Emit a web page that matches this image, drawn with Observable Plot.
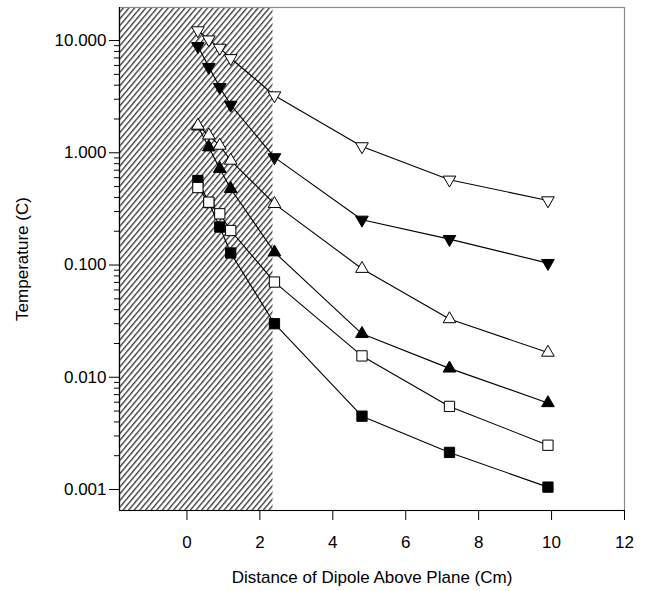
<!DOCTYPE html>
<html>
<head>
<meta charset="utf-8">
<script src="https://cdn.jsdelivr.net/npm/d3@7"></script>
<script src="https://cdn.jsdelivr.net/npm/@observablehq/plot@0.6"></script>
<style>
  html, body { margin: 0; padding: 0; background: white; }
  svg { display: block; }
</style>
</head>
<body>
<div id="chart"></div>
<script>
// Distance of dipole above plane (cm)
const distance = [0.3, 0.6, 0.9, 1.2, 2.4, 4.8, 7.2, 9.9];
// Temperature (C) for each series
const openDown     = [12.3, 10.2, 8.6, 6.95, 3.24, 1.14, 0.575, 0.376];
const filledDown   = [8.9, 5.8, 3.84, 2.67, 0.91, 0.253, 0.170, 0.104];
const openUp       = [1.75, 1.43, 1.16, 0.853, 0.351, 0.0927, 0.033, 0.0166];
const filledUp     = [1.72, 1.12, 0.72, 0.478, 0.130, 0.0244, 0.012, 0.0059];
const openSquare   = [0.49, 0.363, 0.286, 0.203, 0.0705, 0.0155, 0.0055, 0.00248];
const filledSquare = [0.566, 0.36, 0.218, 0.128, 0.030, 0.0045, 0.00214, 0.00105];

const xTicks = [0, 2, 4, 6, 8, 10, 12];
const yTicks = [0.001, 0.01, 0.1, 1, 10];
const xDomain = [-1.85, 12];
const yDomain = [0.00065, 19.7];
const hatchRegion = [{start: -1.85, end: 2.36}];

const seriesList = [
  {name: "filledSquare", values: filledSquare, symbol: "square", fill: "black", rotate: 0},
  {name: "openSquare", values: openSquare, symbol: "square", fill: "white", rotate: 0},
  {name: "filledUp", values: filledUp, symbol: "triangle", fill: "black", rotate: 0},
  {name: "openUp", values: openUp, symbol: "triangle", fill: "white", rotate: 0},
  {name: "filledDown", values: filledDown, symbol: "triangle", fill: "black", rotate: 180},
  {name: "openDown", values: openDown, symbol: "triangle", fill: "white", rotate: 180}
];

const rows = s => distance.map((d, i) => ({x: d, y: s.values[i], series: s.name}));

const minorTicks = d3.scaleLog().domain([0.001, 10]).ticks().filter(t => !yTicks.some(m => Math.abs(m - t) / t < 1e-9));

const FONT = "'Liberation Sans', Arial, sans-serif";
const marks = [
  Plot.rect(hatchRegion, {x1: "start", x2: "end", y1: yDomain[0], y2: yDomain[1], fill: "url(#hatch)"}),
  Plot.frame({stroke: "#8a8a8a", strokeWidth: 1.2}),
  Plot.ruleX([xDomain[0]], {stroke: "black", strokeWidth: 1.2}),
  Plot.ruleY([yDomain[0]], {stroke: "black", strokeWidth: 1.2}),
  Plot.axisY({ticks: minorTicks, tickSize: 5, tickFormat: () => "", label: null}),
  Plot.axisY({ticks: yTicks, tickSize: 10, tickPadding: 3, tickFormat: d3.format(".3f"),
    fontSize: 17, fontFamily: FONT,
    label: "Temperature (C)", labelAnchor: "center", labelArrow: "none", labelOffset: 104}),
  Plot.axisX({ticks: xTicks, tickSize: 10, tickPadding: 15, tickFormat: d3.format("d"),
    fontSize: 17, fontFamily: FONT,
    label: "Distance of Dipole Above Plane (Cm)", labelAnchor: "center", labelArrow: "none", labelOffset: 72})
];
for (const s of seriesList) {
  marks.push(Plot.line(rows(s), {x: "x", y: "y", stroke: "black", strokeWidth: 1.1}));
}
for (const s of seriesList) {
  marks.push(Plot.dot(rows(s), {
    x: "x", y: "y", symbol: s.symbol, rotate: s.rotate, fill: s.fill,
    stroke: "black", strokeWidth: 1,
    r: s.symbol === "square" ? 5.8 : 4.7
  }));
}

const chart = Plot.plot({
  width: 645, height: 591,
  marginLeft: 119, marginRight: 21, marginTop: 7, marginBottom: 81,
  x: {domain: xDomain},
  y: {type: "log", domain: yDomain},
  style: {fontFamily: FONT, fontSize: "17px", color: "black", background: "white", overflow: "visible"},
  marks
});

const svg = d3.select(chart);
const defs = svg.insert("defs", ":first-child");
const pat = defs.append("pattern")
  .attr("id", "hatch").attr("patternUnits", "userSpaceOnUse")
  .attr("width", 4.3).attr("height", 10)
  .attr("patternTransform", "rotate(40)");
pat.append("rect").attr("width", 4.3).attr("height", 10).attr("fill", "white");
pat.append("line").attr("x1", 0.7).attr("y1", 0).attr("x2", 0.7).attr("y2", 10)
  .attr("stroke", "#222").attr("stroke-width", 1.2);
svg.selectAll('g[aria-label="rect"] rect').attr("fill", "url(#hatch)");

document.getElementById("chart").appendChild(chart);
</script>
</body>
</html>
